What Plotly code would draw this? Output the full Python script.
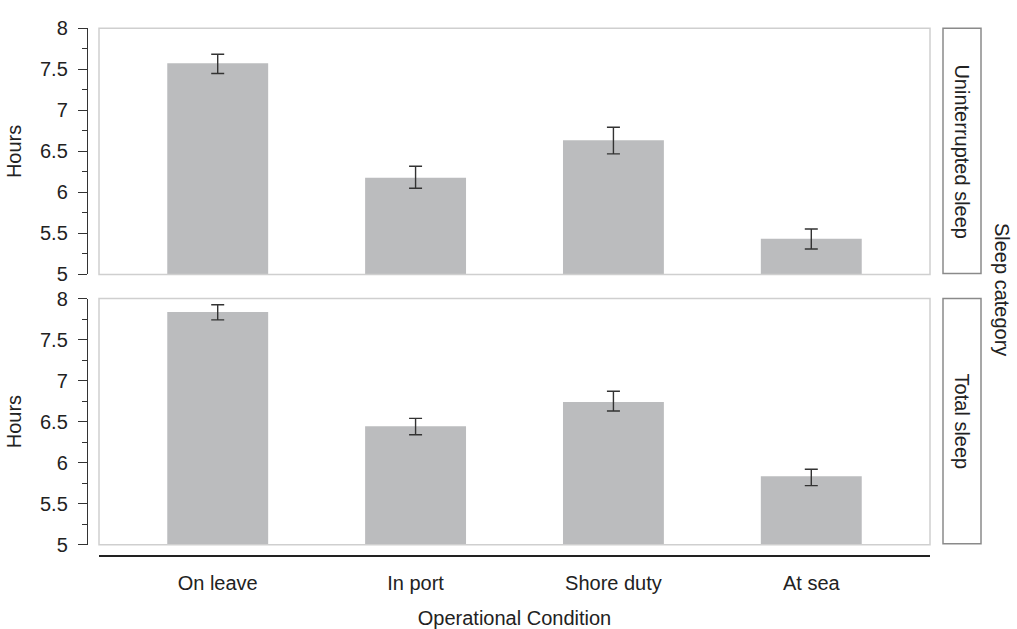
import plotly.graph_objects as go

# Operational conditions (x categories)
conditions = ["On leave", "In port", "Shore duty", "At sea"]

# Uninterrupted sleep: mean hours and error-bar ends
unint_mean = [7.575, 6.18, 6.635, 5.435]
unint_hi = [7.685, 6.32, 6.795, 5.555]
unint_lo = [7.45, 6.05, 6.47, 5.31]

# Total sleep: mean hours and error-bar ends
total_mean = [7.835, 6.445, 6.74, 5.835]
total_hi = [7.925, 6.54, 6.87, 5.92]
total_lo = [7.74, 6.34, 6.63, 5.72]

y_ticks = [5, 5.5, 6, 6.5, 7, 7.5, 8]
y_ticktext = ["5", "5.5", "6", "6.5", "7", "7.5", "8"]
strip_labels = ["Uninterrupted sleep", "Total sleep"]

W, H = 1017, 629
FONT = "Liberation Sans, Arial, Helvetica, sans-serif"
TXT = "#222222"
BAR = "#bbbcbe"
FS = 20


def px_x(p):
    return p / W


def px_y(p):
    return 1 - p / H


# panel geometry (pixels)
left, right = 99, 930
panels = [(18, 273), (298, 553)]

fig = go.Figure()

for i, (mean, hi, lo) in enumerate([(unint_mean, unint_hi, unint_lo),
                                     (total_mean, total_hi, total_lo)]):
    suffix = "" if i == 0 else str(i + 1)
    fig.add_trace(go.Bar(
        x=conditions, y=mean,
        width=0.51,
        marker=dict(color=BAR, line=dict(width=0)),
        error_y=dict(type="data", symmetric=False,
                     array=[h - m for h, m in zip(hi, mean)],
                     arrayminus=[m - l for m, l in zip(mean, lo)],
                     color="#333333", thickness=1.4, width=6.5),
        xaxis="x" + suffix, yaxis="y" + suffix,
        showlegend=False,
    ))

yaxis_common = dict(
    range=[5, 8], tickvals=y_ticks, ticktext=y_ticktext,
    ticks="outside", ticklen=9, tickwidth=1.2, tickcolor="#333333",
    showline=True, linecolor="#333333", linewidth=1.4,
    showgrid=False, zeroline=False,
    minor=dict(dtick=0.25, ticks="outside", ticklen=5, tickwidth=1, tickcolor="#333333"),
    tickfont=dict(family=FONT, size=FS, color=TXT),
    ticklabelstandoff=6,
    anchor="free", position=px_x(87),
    title=dict(text="Hours", font=dict(family=FONT, size=FS, color=TXT), standoff=11),
)

xaxis_common = dict(
    range=[-0.6, 3.6], showgrid=False, zeroline=False,
    domain=[px_x(left), px_x(right)],
)

fig.update_layout(
    width=W, height=H,
    margin=dict(l=0, r=0, t=0, b=0),
    plot_bgcolor="white", paper_bgcolor="white",
    font=dict(family=FONT, color=TXT),
    xaxis=dict(**xaxis_common, anchor="y", showticklabels=False, showline=False, ticks=""),
    xaxis2=dict(**xaxis_common, anchor="free", position=px_y(565),
                showline=True, linecolor="#222222", linewidth=1.5, ticks="",
                tickfont=dict(family=FONT, size=FS, color=TXT),
                ticklabelstandoff=9,
                title=dict(text="Operational Condition",
                           font=dict(family=FONT, size=FS, color=TXT), standoff=19)),
    yaxis=dict(**yaxis_common, domain=[px_y(panels[0][1]), px_y(panels[0][0])]),
    yaxis2=dict(**yaxis_common, domain=[px_y(panels[1][1]), px_y(panels[1][0])]),
    bargap=0.5,
)

shapes = []
annotations = []
for (top, bot), label in zip(panels, strip_labels):
    # light panel border
    shapes.append(dict(type="rect", xref="paper", yref="paper",
                       x0=px_x(left), x1=px_x(right), y0=px_y(bot), y1=px_y(top),
                       line=dict(color="#cfcfcf", width=1.5), fillcolor="rgba(0,0,0,0)",
                       layer="above"))
    # facet strip box
    shapes.append(dict(type="rect", xref="paper", yref="paper",
                       x0=px_x(943), x1=px_x(981), y0=px_y(bot - 1), y1=px_y(top),
                       line=dict(color="#8a8a8a", width=1.5), fillcolor="white"))
    annotations.append(dict(text=label, xref="paper", yref="paper",
                            x=px_x(962), y=px_y((top + bot) / 2),
                            textangle=90, showarrow=False,
                            font=dict(family=FONT, size=FS, color=TXT),
                            xanchor="center", yanchor="middle"))

annotations.append(dict(text="Sleep category", xref="paper", yref="paper",
                        x=px_x(1002), y=px_y(288), textangle=90, showarrow=False,
                        font=dict(family=FONT, size=FS, color=TXT),
                        xanchor="center", yanchor="middle"))

fig.update_layout(shapes=shapes, annotations=annotations)

fig.write_html("out.html")
